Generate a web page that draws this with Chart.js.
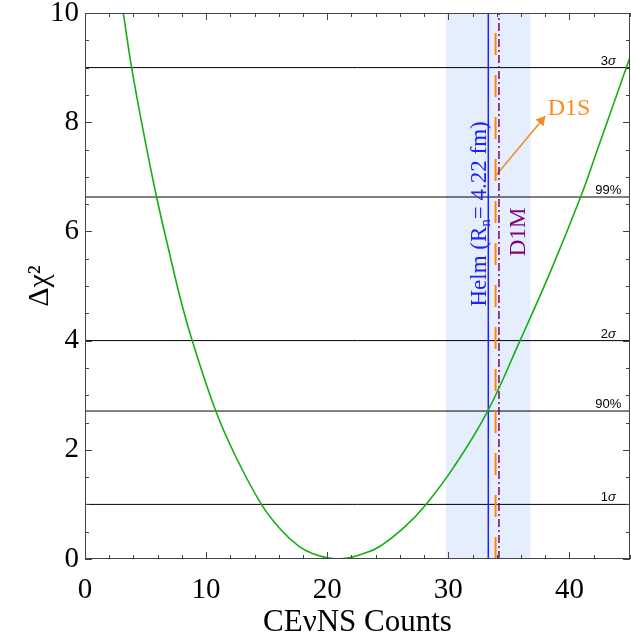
<!DOCTYPE html>
<html>
<head>
<meta charset="utf-8">
<script src="https://cdn.jsdelivr.net/npm/chart.js@4.4.1/dist/chart.umd.min.js"></script>
<style>
  html, body { margin: 0; padding: 0; background: #fff; }
</style>
</head>
<body>
<canvas id="chi2Chart" width="631" height="641"></canvas>
<script>
// Delta chi^2 vs counts
const countsX   = [3.16, 3.85, 4.8, 5.91, 7.0, 7.91, 8.85, 10.8, 12.5, 14.57, 16.08, 17.7, 18.9, 20.0, 20.9, 21.8, 22.9, 24.3, 26.4, 28.16, 30.5, 33.25, 35.92, 38.5, 40.92, 42.3, 44.7, 45];
const deltaChi2 = [10, 9, 7.85, 6.63, 5.58, 4.74, 4, 2.71, 1.85, 1, 0.56, 0.225, 0.09, 0.02, 0, 0.02, 0.09, 0.225, 0.59, 1, 1.7, 2.71, 4, 5.3, 6.63, 7.49, 9, 9.19];

// confidence levels (horizontal lines)
const levelValues = [1, 2.71, 4, 6.63, 9];
const levelNames  = ['1σ', '90%', '2σ', '99%', '3σ'];

// predicted counts (vertical lines) and shaded band
const helmCounts = 33.3;
const d1sCounts  = 33.9;
const d1mCounts  = 34.18;
const bandRange  = [29.8, 36.8];

// arrow pointing to the D1S label
const arrowX = [33.94, 38.0];
const arrowY = [7.03, 8.11];

const serif = "'Liberation Serif', 'Times New Roman', serif";
const sans = "'Liberation Sans', Arial, sans-serif";

const curveData = countsX.map((c, i) => ({ x: c, y: deltaChi2[i] }));

const levelSets = levelValues.map(v => ({
  data: [{ x: 0, y: v }, { x: 45, y: v }],
  borderColor: '#000',
  borderWidth: 1,
  pointRadius: 0,
  showLine: true,
  order: 3
}));

function vline(xv, color, dash, width) {
  return {
    data: [{ x: xv, y: 0 }, { x: xv, y: 10 }],
    borderColor: color,
    borderWidth: width,
    borderDash: dash,
    pointRadius: 0,
    showLine: true,
    order: 2
  };
}

// frame, inward ticks and text labels
const decorations = {
  id: 'decorations',
  afterDatasetsDraw(chart) {
    const { ctx, chartArea: a, scales: { x, y } } = chart;
    ctx.save();
    ctx.strokeStyle = '#444';
    ctx.lineWidth = 1;
    ctx.strokeRect(a.left + 0.5, a.top + 0.5, a.right - a.left - 1, a.bottom - a.top - 1);
    ctx.beginPath();
    x.ticks.forEach(t => {
      const px = Math.round(x.getPixelForValue(t.value)) + 0.5;
      const len = t.value % 10 === 0 ? 7 : 4;
      ctx.moveTo(px, a.bottom); ctx.lineTo(px, a.bottom - len);
      ctx.moveTo(px, a.top); ctx.lineTo(px, a.top + len);
    });
    y.ticks.forEach(t => {
      const py = Math.round(y.getPixelForValue(t.value)) + 0.5;
      const len = t.value % 2 === 0 ? 7 : 4;
      ctx.moveTo(a.left, py); ctx.lineTo(a.left + len, py);
      ctx.moveTo(a.right, py); ctx.lineTo(a.right - len, py);
    });
    ctx.stroke();

    // level labels
    ctx.fillStyle = '#000';
    ctx.textBaseline = 'alphabetic';
    levelValues.forEach((v, i) => {
      const name = levelNames[i];
      const cx = x.getPixelForValue(43.2);
      const by = y.getPixelForValue(v) - 3;
      if (name.endsWith('σ')) {
        ctx.font = '13px ' + sans;
        const w1 = ctx.measureText(name[0]).width;
        ctx.font = 'italic 13px ' + sans;
        const w2 = ctx.measureText('σ').width;
        const sx = cx - (w1 + w2) / 2;
        ctx.font = '13px ' + sans;
        ctx.textAlign = 'left';
        ctx.fillText(name[0], sx, by);
        ctx.font = 'italic 13px ' + sans;
        ctx.fillText('σ', sx + w1, by);
      } else {
        ctx.font = '13px ' + sans;
        ctx.textAlign = 'center';
        ctx.fillText(name, cx, by);
      }
    });

    // Helm label, rotated, with subscript n
    ctx.save();
    ctx.translate(x.getPixelForValue(33.1), y.getPixelForValue(6.32));
    ctx.rotate(-Math.PI / 2);
    ctx.fillStyle = '#2020ff';
    ctx.textAlign = 'left';
    const parts = [['Helm (R', 23, 0], ['n', 15, 4], ['= 4.22 fm)', 23, 0]];
    let total = 0;
    parts.forEach(p => { ctx.font = p[1] + 'px ' + serif; total += ctx.measureText(p[0]).width; });
    let px = -total / 2;
    parts.forEach(p => {
      ctx.font = p[1] + 'px ' + serif;
      ctx.fillText(p[0], px, p[2]);
      px += ctx.measureText(p[0]).width;
    });
    ctx.restore();

    // D1M label
    ctx.save();
    ctx.translate(x.getPixelForValue(36.36), y.getPixelForValue(5.99));
    ctx.rotate(-Math.PI / 2);
    ctx.fillStyle = '#800080';
    ctx.textAlign = 'center';
    ctx.font = '23px ' + serif;
    ctx.fillText('D1M', 0, 0);
    ctx.restore();

    // D1S label
    ctx.fillStyle = '#ff8c1a';
    ctx.textAlign = 'left';
    ctx.font = '24px ' + serif;
    ctx.fillText('D1S', x.getPixelForValue(38.2), y.getPixelForValue(8.13));
    ctx.restore();
  }
};

new Chart(document.getElementById('chi2Chart'), {
  type: 'scatter',
  data: {
    datasets: [
      {
        data: curveData,
        borderColor: 'rgb(20,175,20)',
        borderWidth: 1.6,
        pointRadius: 0,
        showLine: true,
        tension: 0.4,
        order: 1
      },
      vline(helmCounts, '#2020ff', [], 1.5),
      vline(d1sCounts, '#ff8800', [22, 20], 2),
      vline(d1mCounts, '#800080', [8, 3, 2, 3], 1.5),
      {
        data: arrowX.map((v, i) => ({ x: v, y: arrowY[i] })),
        borderColor: '#f08a24',
        borderWidth: 1.5,
        pointRadius: 0,
        showLine: true,
        order: 2
      },
      {
        data: [{ x: 37.69, y: 8.03 }],
        pointStyle: 'triangle',
        pointRotation: 39.7,
        pointRadius: 6,
        backgroundColor: '#f08a24',
        borderColor: '#f08a24',
        borderWidth: 0,
        order: 2
      },
      ...levelSets,
      {
        data: [{ x: bandRange[0], y: 10 }, { x: bandRange[1], y: 10 }],
        showLine: true,
        fill: 'origin',
        backgroundColor: 'rgb(229,238,252)',
        borderWidth: 0,
        pointRadius: 0,
        order: 10
      }
    ]
  },
  options: {
    responsive: false,
    animation: false,
    layout: { autoPadding: false, padding: { top: 13, right: 1, left: 0, bottom: 0 } },
    plugins: { legend: { display: false }, tooltip: { enabled: false } },
    scales: {
      x: {
        type: 'linear',
        min: 0, max: 45,
        grid: { display: false, drawTicks: false },
        border: { display: false },
        ticks: {
          stepSize: 2,
          autoSkip: false,
          maxRotation: 0,
          padding: 14,
          color: '#000',
          font: { family: serif, size: 29 },
          callback: v => (v % 10 === 0 ? String(v) : '')
        },
        title: {
          display: true,
          text: 'CEνNS Counts',
          color: '#000',
          font: { family: serif, size: 31 },
          padding: { top: 4, bottom: 0 }
        },
        afterFit(scale) {
          scale.height = 82;
          scale.paddingLeft = 0;
          scale.paddingRight = 0;
        }
      },
      y: {
        min: 0, max: 10,
        grid: { display: false, drawTicks: false },
        border: { display: false },
        ticks: {
          stepSize: 0.5,
          autoSkip: false,
          padding: 6,
          color: '#000',
          font: { family: serif, size: 29 },
          callback: v => (v % 2 === 0 ? String(v) : '')
        },
        title: {
          display: true,
          text: 'Δχ²',
          color: '#000',
          font: { family: serif, size: 30 },
          padding: { top: 22, bottom: 0 }
        },
        afterFit(scale) {
          scale.width = 85;
          scale.paddingTop = 0;
          scale.paddingBottom = 0;
        }
      }
    }
  },
  plugins: [decorations]
});
</script>
</body>
</html>
